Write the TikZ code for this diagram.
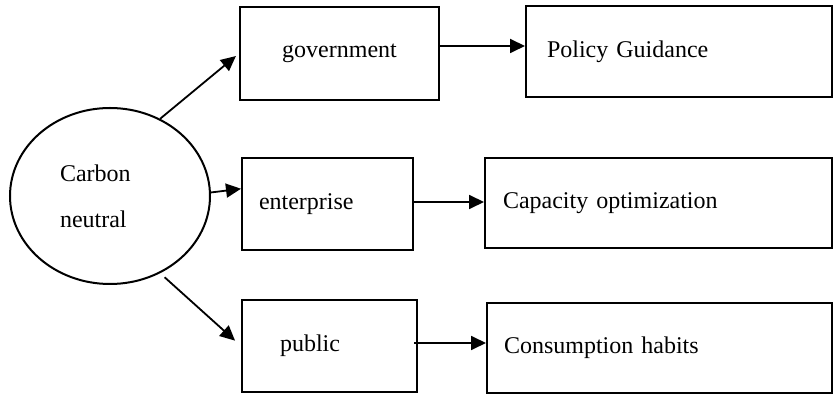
\documentclass[tikz,border=0pt]{standalone}
\usepackage{fontspec}
\setmainfont{Liberation Serif}
\usetikzlibrary{shapes.geometric,arrows.meta}

\tikzset{box/.style={draw,line width=1pt,rectangle,inner ysep=0pt,align=left,font=\fontsize{12}{14}\selectfont},
         link/.style={line width=0.9pt,-{Triangle[length=7.5pt,width=7pt]}}}

\begin{document}
\begin{tikzpicture}[x=0.5pt,y=-0.5pt]
                  \useasboundingbox (0,0) rectangle (833,394);
                  \node[ellipse,draw,line width=1pt,minimum width=100pt,minimum height=88pt,text width=50pt,align=left,font=\fontsize{12}{23}\selectfont] (cn) at (110,196) {Carbon\\neutral};
                  \node[box,align=center,text width=99.5pt,inner xsep=0pt,minimum height=46.5pt] (gov) at (339.5,53.5) {government};
                  \node[box,text width=132pt,inner xsep=10.5pt,minimum height=45.5pt] (pol) at (679,51.5) {Policy Guidance};
                  \node[box,text width=68.5pt,inner xsep=8.5pt,minimum height=46pt] (ent) at (327.5,204) {enterprise};
                  \node[box,text width=155.5pt,inner xsep=9pt,minimum height=45pt] (cap) at (658.5,203) {Capacity optimization};
                  \node[box,text width=49.5pt,inner xsep=19pt,minimum height=46pt] (pub) at (329.5,346) {public};
                  \node[box,text width=155.5pt,inner xsep=8.5pt,minimum height=45pt] (con) at (659.5,348) {Consumption habits};
                  \draw[link,shorten >=2pt] (cn.57) -- (gov.west);
                  \draw[link] (cn.2) -- (ent.170);
                  \draw[link,shorten <=3pt,shorten >=4pt] (cn.-57) -- (pub.west);
                  \draw[link] ([yshift=3.75pt]gov.east) coordinate (g1) -- (g1 -| pol.west);
                  \draw[link] ([yshift=1pt]ent.east) coordinate (e1) -- (e1 -| cap.west);
                  \draw[link] ([xshift=-2pt,yshift=1.5pt]pub.east) coordinate (p1) -- (p1 -| con.west);
              \end{tikzpicture}
\end{document}
